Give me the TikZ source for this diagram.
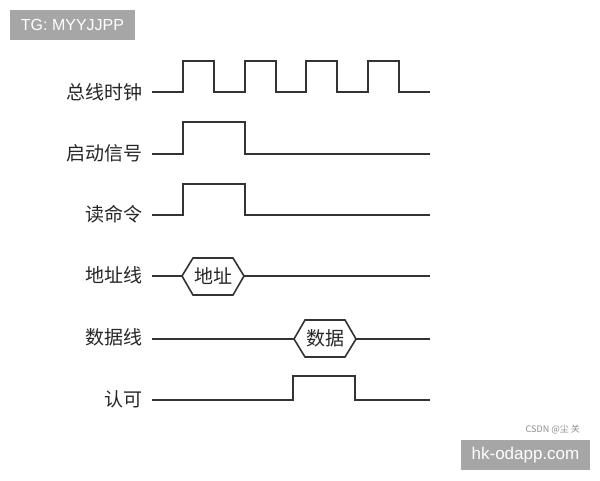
\documentclass[tikz,border=0pt]{standalone}
\usepackage{fontspec}
\newfontfamily\cjk{Noto Sans CJK SC}
\setmainfont{Liberation Sans}
\begin{document}
\begin{tikzpicture}[x=1pt,y=-1pt,
  sig/.style={draw=black!80,line width=1.6pt,line join=miter},
  lbl/.style={font=\cjk\fontsize{19}{19}\selectfont,text=black!85,anchor=east,inner sep=0pt},
  hextxt/.style={font=\cjk\fontsize{19}{19}\selectfont,text=black!85,inner sep=0pt}]
\useasboundingbox (0,0) rectangle (600,480);
% watermark top-left
\fill[black!35] (10,10) rectangle (135,40);
\node[text=white,font=\fontsize{16}{16}\selectfont,inner sep=0pt] (tg) at (72.5,25) {TG: MYYJJPP};
% labels
\node[lbl] (l1) at (143,92) {总线时钟};
\node[lbl] (l2) at (143,153) {启动信号};
\node[lbl] (l3) at (143,214) {读命令};
\node[lbl] (l4) at (143,275) {地址线};
\node[lbl] (l5) at (143,337) {数据线};
\node[lbl] (l6) at (143,399) {认可};
% clock
\draw[sig] (152,92) -- (183,92) -- (183,61) -- (214,61) -- (214,92) -- (245,92) -- (245,61) -- (276,61) -- (276,92)
  -- (306,92) -- (306,61) -- (337,61) -- (337,92) -- (368,92) -- (368,61) -- (399,61) -- (399,92) -- (430,92);
% start signal
\draw[sig] (152,154) -- (183,154) -- (183,122) -- (245,122) -- (245,154) -- (430,154);
% read command
\draw[sig] (152,215) -- (183,215) -- (183,184) -- (245,184) -- (245,215) -- (430,215);
% address
\draw[sig] (152,276) -- (182,276);
\draw[sig] (182,276) -- (193,258) -- (233,258) -- (244,276) -- (233,295) -- (193,295) -- cycle;
\draw[sig] (244,276) -- (430,276);
\node[hextxt] (a) at (213,276) {地址};
% data
\draw[sig] (152,339) -- (294,339);
\draw[sig] (294,339) -- (305,320) -- (345,320) -- (356,339) -- (345,357) -- (305,357) -- cycle;
\draw[sig] (356,339) -- (430,339);
\node[hextxt] (d) at (325,338.5) {数据};
% ack
\draw[sig] (152,400) -- (293,400) -- (293,376) -- (355,376) -- (355,400) -- (430,400);
% watermarks bottom-right
\node[text=black!45,font=\cjk\fontsize{9}{9}\selectfont,anchor=east,inner sep=0pt] (csdn) at (580,430) {CSDN @尘 关};
\fill[black!35] (461,440) rectangle (590,470);
\node[text=white,font=\fontsize{17}{17}\selectfont,inner sep=0pt] (hk) at (525.5,455) {hk-odapp.com};
\end{tikzpicture}
\end{document}
